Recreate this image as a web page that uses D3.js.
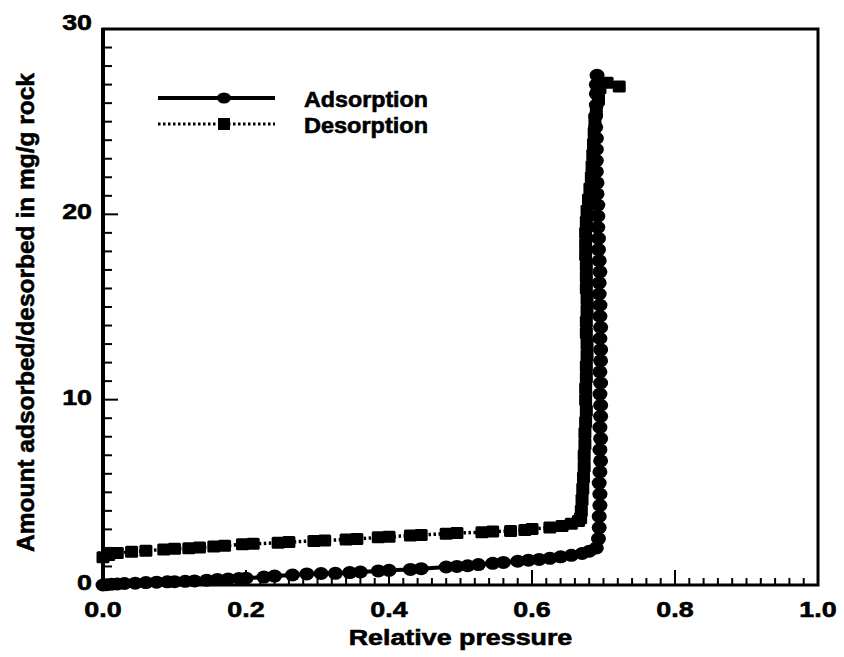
<!DOCTYPE html>
<html><head><meta charset="utf-8">
<script src="https://cdn.jsdelivr.net/npm/d3@7"></script>
<style>
html,body{margin:0;padding:0;background:#fff;}
svg{display:block;}
text{font-family:"Liberation Sans",Arial,Helvetica,sans-serif;font-weight:bold;fill:#000;stroke:#000;stroke-width:0.6;}
</style></head>
<body><svg id="c" width="844" height="657"></svg>
<script>
// ---- data ----
const adsorptionP = [0.0,0.005,0.012,0.02,0.03,0.045,0.06,0.075,0.09,0.1,0.115,0.128,0.145,0.16,0.175,0.19,0.2,0.225,0.24,0.265,0.285,0.305,0.325,0.345,0.36,0.385,0.4,0.43,0.445,0.48,0.495,0.51,0.525,0.545,0.56,0.58,0.595,0.61,0.625,0.64,0.655,0.67,0.68,0.69,
 0.693,0.694,0.694,0.695,0.695,0.694,0.695,0.696,0.695,0.696,0.695,0.696,0.696,0.695,0.696,0.695,0.696,0.696,0.695,0.696,0.695,0.695,0.694,0.694,0.695,0.694,0.693,0.693,0.692,0.692,0.692,0.691,0.691,0.69,0.69,0.69,0.69,0.689,0.689,0.69,0.69,0.69,0.691];
const adsorptionV = [0.0,0.02,0.04,0.06,0.08,0.1,0.13,0.15,0.17,0.18,0.2,0.22,0.26,0.3,0.33,0.35,0.37,0.43,0.48,0.54,0.6,0.62,0.63,0.67,0.7,0.76,0.79,0.84,0.88,0.97,1.0,1.04,1.1,1.17,1.22,1.28,1.34,1.38,1.44,1.52,1.6,1.7,1.82,2.0,
 2.5,3.1,3.7,4.3,4.9,5.5,6.1,6.7,7.3,7.9,8.5,9.1,9.7,10.3,10.9,11.5,12.1,12.7,13.3,13.9,14.5,15.1,15.7,16.3,16.9,17.5,18.1,18.7,19.3,19.9,20.5,21.1,21.7,22.3,22.9,23.5,24.1,24.7,25.3,25.9,26.5,27.0,27.5];

const desorptionP = [0.722,0.705,0.695,0.693,0.69,0.688,0.687,0.686,0.685,0.684,0.683,0.681,0.679,0.677,0.676,0.675,0.675,0.675,0.676,0.676,0.676,0.677,0.677,0.676,0.676,0.677,0.677,0.676,0.676,0.675,0.675,0.676,0.675,0.674,0.674,0.673,0.673,0.672,0.671,0.67,0.669,0.668,
 0.665,0.655,0.642,0.625,0.6,0.59,0.57,0.545,0.53,0.495,0.48,0.445,0.43,0.4,0.385,0.355,0.34,0.31,0.295,0.26,0.245,0.21,0.195,0.17,0.155,0.135,0.12,0.1,0.085,0.06,0.04,0.02,0.008,0.0];
const desorptionV = [26.9,27.1,26.8,26.2,25.6,25.0,24.4,23.8,23.2,22.6,22.0,21.4,20.8,20.2,19.6,19.0,18.4,17.8,17.2,16.6,16.0,15.4,14.8,14.2,13.6,13.0,12.4,11.8,11.2,10.6,10.0,9.4,8.8,8.2,7.6,7.0,6.4,5.8,5.2,4.6,4.0,3.6,
 3.45,3.3,3.18,3.1,3.02,2.97,2.92,2.88,2.85,2.8,2.77,2.7,2.67,2.6,2.57,2.48,2.46,2.4,2.38,2.32,2.28,2.22,2.2,2.12,2.08,2.02,1.98,1.95,1.92,1.85,1.8,1.72,1.62,1.5];

const xTickValues = [0,0.2,0.4,0.6,0.8,1.0];
const xTickLabels = ["0.0","0.2","0.4","0.6","0.8","1.0"];
const yTickValues = [0,10,20,30];
const yTickLabels = ["0","10","20","30"];
const seriesNames = ["Adsorption","Desorption"];
const xTitle = "Relative pressure";
const yTitle = "Amount adsorbed/desorbed in mg/g rock";

// ---- layout ----
const svg = d3.select("#c");
const L=103, R=818, T=29, B=585;
const x = d3.scaleLinear().domain([0,1]).range([L,R]);
const y = d3.scaleLinear().domain([0,30]).range([B,T]);

// frame
svg.append("rect").attr("x",L).attr("y",T).attr("width",R-L).attr("height",B-T)
  .attr("fill","none").attr("stroke","#000").attr("stroke-width",3);
svg.append("line").attr("x1",L).attr("x2",L).attr("y1",T-1).attr("y2",B+1).attr("stroke","#000").attr("stroke-width",4);

// x ticks (inward)
const xMinor = d3.range(0,1.0001,0.02);
svg.append("g").selectAll("line").data(xMinor).join("line")
  .attr("x1",d=>x(d)).attr("x2",d=>x(d))
  .attr("y1",B).attr("y2",(d,i)=> i%10===0 ? B-15 : B-7)
  .attr("stroke","#000").attr("stroke-width",2);
// y ticks (inward)
const yMinor = d3.range(0,30.001,1);
svg.append("g").selectAll("line").data(yMinor).join("line")
  .attr("y1",d=>y(d)).attr("y2",d=>y(d))
  .attr("x1",L).attr("x2",(d,i)=> i%10===0 ? L+15 : L+9)
  .attr("stroke","#000").attr("stroke-width",2);

// tick labels
const fs=22, sx=1.22;
svg.append("g").selectAll("text").data(xTickValues).join("text")
  .attr("transform",d=>`translate(${x(d)},617) scale(${sx},1)`)
  .attr("text-anchor","middle").attr("font-size",fs)
  .text((d,i)=>xTickLabels[i]);
svg.append("g").selectAll("text").data(yTickValues).join("text")
  .attr("transform",d=>`translate(92,${d===30? y(d)+1 : y(d)+5}) scale(${sx},1)`)
  .attr("text-anchor","end").attr("font-size",fs)
  .text((d,i)=>yTickLabels[i]);

// axis titles
svg.append("text").attr("transform",`translate(${(L+R)/2},645) scale(${sx},1)`)
  .attr("text-anchor","middle").attr("font-size",fs).text(xTitle);
svg.append("text").attr("transform",`translate(34,${(73+552)/2}) rotate(-90)`)
  .attr("text-anchor","middle").attr("font-size",24)
  .attr("textLength",479).attr("lengthAdjust","spacingAndGlyphs").text(yTitle);

// series
const ads = adsorptionP.map((p,i)=>({p, v:adsorptionV[i]}));
const des = desorptionP.map((p,i)=>({p, v:desorptionV[i]}));
const line = d3.line().x(d=>x(d.p)).y(d=>y(d.v));

svg.append("path").datum(des).attr("d",line).attr("fill","none")
  .attr("stroke","#000").attr("stroke-width",3.5).attr("stroke-dasharray","2.5,2.5");
svg.append("g").selectAll("rect").data(des).join("rect")
  .attr("x",d=>x(d.p)-6.5).attr("y",d=>y(d.v)-6).attr("width",13).attr("height",12).attr("rx",1.5).attr("fill","#000");

svg.append("path").datum(ads).attr("d",line).attr("fill","none")
  .attr("stroke","#000").attr("stroke-width",4);
svg.append("g").selectAll("ellipse").data(ads).join("ellipse")
  .attr("cx",d=>x(d.p)).attr("cy",d=>y(d.v)).attr("rx",7.5).attr("ry",6.5).attr("fill","#000");

// legend
const lg = svg.append("g");
lg.append("line").attr("x1",158).attr("x2",275).attr("y1",98).attr("y2",98).attr("stroke","#000").attr("stroke-width",4);
lg.append("ellipse").attr("cx",224).attr("cy",98).attr("rx",7).attr("ry",5.5).attr("fill","#000");
lg.append("line").attr("x1",158).attr("x2",275).attr("y1",124).attr("y2",124).attr("stroke","#000").attr("stroke-width",3).attr("stroke-dasharray","2.5,2.5");
lg.append("rect").attr("x",218).attr("y",118).attr("width",12).attr("height",12).attr("fill","#000");
lg.selectAll("text.lab").data(seriesNames).join("text").attr("class","lab")
  .attr("x",304).attr("y",(d,i)=>107+i*26).attr("font-size",22)
  .attr("textLength",124).attr("lengthAdjust","spacingAndGlyphs").text(d=>d);
</script>
</body></html>
